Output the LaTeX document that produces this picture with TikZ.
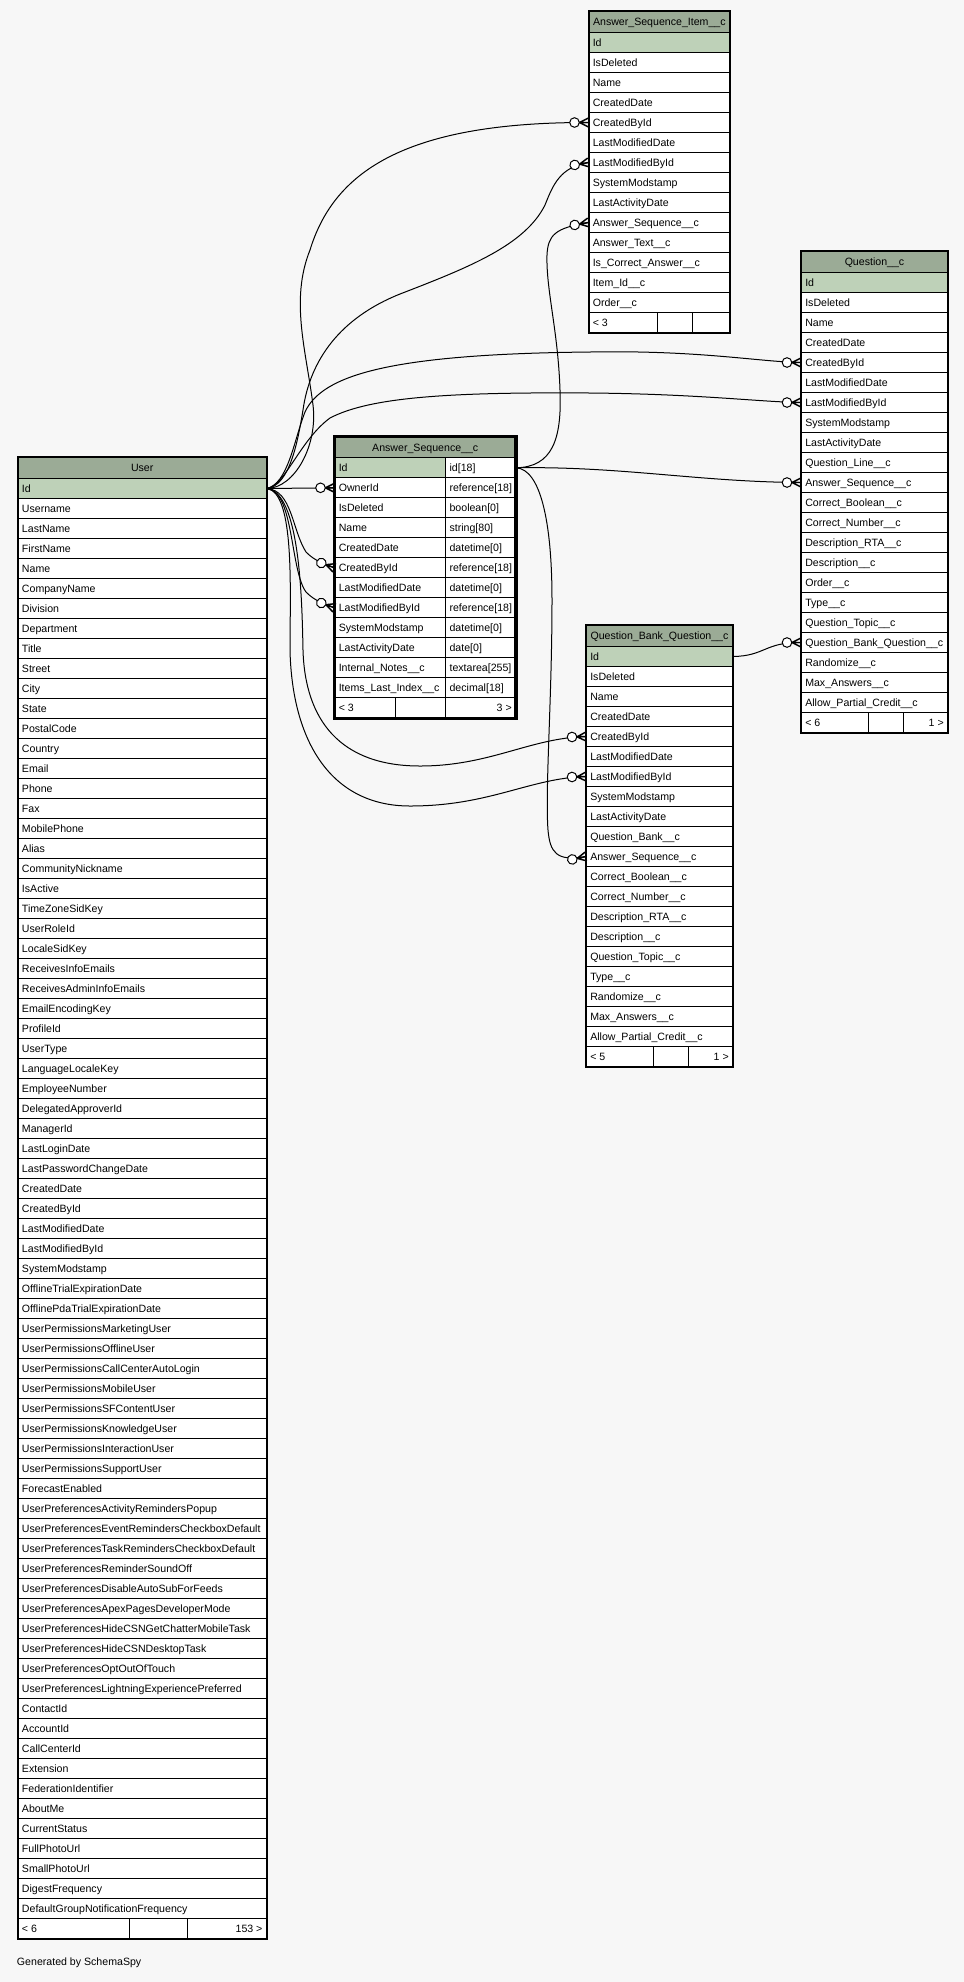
\documentclass[tikz,border=0pt]{standalone}
\usepackage{fontspec}
\setmainfont{Liberation Sans}
\definecolor{bgc}{HTML}{F7F7F7}
\definecolor{hdrc}{HTML}{9BAB96}
\definecolor{pkc}{HTML}{BED1B8}
\newcommand{\cellfnt}{\fontsize{7.95}{9.5}\selectfont}
\begin{document}
\begin{tikzpicture}[x=0.75pt,y=-0.75pt,
  cellbox/.style={draw=black, line width=0.75pt, fill=white, anchor=north west, inner sep=0pt, minimum height=15pt, minimum width=#1},
  pkbox/.style={cellbox=#1, fill=pkc},
  hdrbox/.style={draw=black, line width=0.75pt, fill=hdrc, anchor=north west, inner sep=0pt, minimum height=15.75pt, minimum width=#1, font=\cellfnt, text height=6.2pt, text depth=0.6pt},
  lt/.style={anchor=west, inner xsep=3pt, inner ysep=0pt, font=\cellfnt, text height=6.2pt, text depth=0.6pt},
  rt/.style={anchor=east, inner xsep=3pt, inner ysep=0pt, font=\cellfnt, text height=6.2pt, text depth=0.6pt},
  fk/.style={draw=black, line width=0.75pt},
  crowodot/.pic={
    \draw[line width=1.1pt] (-9,0) -- (0,-4.5) (-9,0) -- (0,0) (-9,0) -- (0,4.5);
    \draw[line width=0.75pt, fill=white] (-14,0) circle[radius=3.6pt];
  }]
\useasboundingbox (0,0) rectangle (964,1982);
\fill[bgc] (0,0) rectangle (964,1982);

% ---------- User ----------
\node[hdrbox=186pt] (user-h) at (17.7,457) {User};
\node[pkbox=186pt, label={[lt]west:Id}] (user-1) at (17.7,478) {};
\foreach \nm [count=\j from 2] in {Username, LastName, FirstName, Name, CompanyName, Division, Department, Title, Street, City, State, PostalCode, Country, Email, Phone, Fax, MobilePhone, Alias, CommunityNickname, IsActive, TimeZoneSidKey, UserRoleId, LocaleSidKey, ReceivesInfoEmails, ReceivesAdminInfoEmails, EmailEncodingKey, ProfileId, UserType, LanguageLocaleKey, EmployeeNumber, DelegatedApproverId, ManagerId, LastLoginDate, LastPasswordChangeDate, CreatedDate, CreatedById, LastModifiedDate, LastModifiedById, SystemModstamp, OfflineTrialExpirationDate, OfflinePdaTrialExpirationDate, UserPermissionsMarketingUser, UserPermissionsOfflineUser, UserPermissionsCallCenterAutoLogin, UserPermissionsMobileUser, UserPermissionsSFContentUser, UserPermissionsKnowledgeUser, UserPermissionsInteractionUser, UserPermissionsSupportUser, ForecastEnabled, UserPreferencesActivityRemindersPopup, UserPreferencesEventRemindersCheckboxDefault, UserPreferencesTaskRemindersCheckboxDefault, UserPreferencesReminderSoundOff, UserPreferencesDisableAutoSubForFeeds, UserPreferencesApexPagesDeveloperMode, UserPreferencesHideCSNGetChatterMobileTask, UserPreferencesHideCSNDesktopTask, UserPreferencesOptOutOfTouch, UserPreferencesLightningExperiencePreferred, ContactId, AccountId, CallCenterId, Extension, FederationIdentifier, AboutMe, CurrentStatus, FullPhotoUrl, SmallPhotoUrl, DigestFrequency, DefaultGroupNotificationFrequency}
  \node[cellbox=186pt, label={[lt]west:\nm}] (user-\j) at (17.7,{478+20*(\j-1)}) {};
\node[cellbox=83.5pt, label={[lt]west:{< 6}}] (user-fa) at (17.7,1918) {};
\node[cellbox=43.3pt] (user-fb) at (129,1918) {};
\node[cellbox=59.25pt, label={[rt]east:{153 >}}] (user-fc) at (186.7,1918) {};
\draw[line width=1.5pt] (user-h.north west) rectangle (user-fc.south east);

% ---------- Answer_Sequence__c ----------
\node[hdrbox=135.4pt, minimum height=15.75pt] (as-h) at (334.5,436.3) {Answer\_Sequence\_\_c};
\node[pkbox=83.1pt, label={[lt]west:Id}] (as-1) at (334.5,457.3) {};
\node[cellbox=52.3pt, label={[lt]west:{id[18]}}] (as-1-t) at (445.3,457.3) {};
\foreach \nm/\ty [count=\j from 2] in {OwnerId/{reference[18]}, IsDeleted/{boolean[0]}, Name/{string[80]}, CreatedDate/{datetime[0]}, CreatedById/{reference[18]}, LastModifiedDate/{datetime[0]}, LastModifiedById/{reference[18]}, SystemModstamp/{datetime[0]}, LastActivityDate/{date[0]}, Internal\_Notes\_\_c/{textarea[255]}, Items\_Last\_Index\_\_c/{decimal[18]}}
{
  \node[cellbox=83.1pt, label={[lt]west:\nm}] (as-\j) at (334.5,{457.3+20*(\j-1)}) {};
  \node[cellbox=52.3pt, label={[lt]west:\ty}] (as-\j-t) at (445.3,{457.3+20*(\j-1)}) {};
}
\node[cellbox=45.4pt, label={[lt]west:{< 3}}] (as-fa) at (334.5,697.3) {};
\node[cellbox=37.7pt] (as-fb) at (395,697.3) {};
\node[cellbox=52.3pt, label={[rt]east:{3 >}}] (as-fc) at (445.3,697.3) {};
\draw[line width=2.6pt] (as-h.north west) rectangle (as-fc.south east);

% ---------- Answer_Sequence_Item__c ----------
\node[hdrbox=105.5pt] (asi-h) at (588.5,11) {Answer\_Sequence\_Item\_\_c};
\node[pkbox=105.5pt, label={[lt]west:Id}] (asi-1) at (588.5,32) {};
\foreach \nm [count=\j from 2] in {IsDeleted, Name, CreatedDate, CreatedById, LastModifiedDate, LastModifiedById, SystemModstamp, LastActivityDate, Answer\_Sequence\_\_c, Answer\_Text\_\_c, Is\_Correct\_Answer\_\_c, Item\_Id\_\_c, Order\_\_c}
  \node[cellbox=105.5pt, label={[lt]west:\nm}] (asi-\j) at (588.5,{32+20*(\j-1)}) {};
\node[cellbox=51.4pt, label={[lt]west:{< 3}}] (asi-fa) at (588.5,312) {};
\node[cellbox=26.25pt] (asi-fb) at (657,312) {};
\node[cellbox=27.9pt] (asi-fc) at (692,312) {};
\draw[line width=1.5pt] (asi-h.north west) rectangle (asi-fc.south east);

% ---------- Question__c ----------
\node[hdrbox=109.5pt] (q-h) at (801,251) {Question\_\_c};
\node[pkbox=109.5pt, label={[lt]west:Id}] (q-1) at (801,272) {};
\foreach \nm [count=\j from 2] in {IsDeleted, Name, CreatedDate, CreatedById, LastModifiedDate, LastModifiedById, SystemModstamp, LastActivityDate, Question\_Line\_\_c, Answer\_Sequence\_\_c, Correct\_Boolean\_\_c, Correct\_Number\_\_c, Description\_RTA\_\_c, Description\_\_c, Order\_\_c, Type\_\_c, Question\_Topic\_\_c, Question\_Bank\_Question\_\_c, Randomize\_\_c, Max\_Answers\_\_c, Allow\_Partial\_Credit\_\_c}
  \node[cellbox=109.5pt, label={[lt]west:\nm}] (q-\j) at (801,{272+20*(\j-1)}) {};
\node[cellbox=50pt, label={[lt]west:{< 6}}] (q-fa) at (801,712) {};
\node[cellbox=26.25pt] (q-fb) at (867.7,712) {};
\node[cellbox=33.2pt, label={[rt]east:{1 >}}] (q-fc) at (902.7,712) {};
\draw[line width=1.5pt] (q-h.north west) rectangle (q-fc.south east);

% ---------- Question_Bank_Question__c ----------
\node[hdrbox=109.5pt] (qbq-h) at (586,625) {Question\_Bank\_Question\_\_c};
\node[pkbox=109.5pt, label={[lt]west:Id}] (qbq-1) at (586,646) {};
\foreach \nm [count=\j from 2] in {IsDeleted, Name, CreatedDate, CreatedById, LastModifiedDate, LastModifiedById, SystemModstamp, LastActivityDate, Question\_Bank\_\_c, Answer\_Sequence\_\_c, Correct\_Boolean\_\_c, Correct\_Number\_\_c, Description\_RTA\_\_c, Description\_\_c, Question\_Topic\_\_c, Type\_\_c, Randomize\_\_c, Max\_Answers\_\_c, Allow\_Partial\_Credit\_\_c}
  \node[cellbox=109.5pt, label={[lt]west:\nm}] (qbq-\j) at (586,{646+20*(\j-1)}) {};
\node[cellbox=50.5pt, label={[lt]west:{< 5}}] (qbq-fa) at (586,1046) {};
\node[cellbox=26.25pt] (qbq-fb) at (653.3,1046) {};
\node[cellbox=32.8pt, label={[rt]east:{1 >}}] (qbq-fc) at (688.3,1046) {};
\draw[line width=1.5pt] (qbq-h.north west) rectangle (qbq-fc.south east);

% ---------- connectors ----------
% User.Id -> Answer_Sequence_Item__c
\draw[fk] (user-1.east) .. controls (295,488) and (318,445) .. (313,405) .. controls (306,350) and (290,300) .. (310,250) .. controls (333,175) and (400,122) .. (asi-5.west);
\draw[fk] (user-1.east) .. controls (290,486) and (298,440) .. (303,410) .. controls (310,360) and (340,318) .. (400,294) .. controls (470,267) and (525,245) .. (545,205) .. controls (553,185) and (560,167) .. (asi-7.west);
% User.Id -> Question__c
\draw[fk] (user-1.east) .. controls (288,484) and (294,440) .. (305,412) .. controls (322,375) and (390,354) .. (590,352) .. controls (700,350) and (760,362) .. (q-5.west);
\draw[fk] (user-1.east) .. controls (285,486) and (300,440) .. (330,418) .. controls (370,397) and (450,392) .. (590,393) .. controls (700,394) and (760,402) .. (q-7.west);
% User.Id -> Answer_Sequence__c
\draw[fk] (user-1.east) -- (as-2.west);
\draw[fk] (user-1.east) .. controls (292,490) and (292,530) .. (306,552) .. controls (312,558) and (318,562) .. (as-6.west);
\draw[fk] (user-1.east) .. controls (294,490) and (290,570) .. (306,592) .. controls (312,598) and (318,602) .. (as-8.west);
% User.Id -> Question_Bank_Question__c
\draw[fk] (user-1.east) .. controls (300,492) and (302,600) .. (303,650) .. controls (305,720) and (340,766) .. (420,766) .. controls (490,766) and (530,738) .. (qbq-5.west);
\draw[fk] (user-1.east) .. controls (295,492) and (290,590) .. (290,650) .. controls (292,740) and (330,806) .. (410,806) .. controls (490,806) and (530,778) .. (qbq-7.west);
% Answer_Sequence__c.Id -> children
\draw[fk] (as-1-t.east) .. controls (552,467) and (562,440) .. (560,390) .. controls (558,330) and (546,290) .. (547,255) .. controls (548,235) and (555,228) .. (asi-10.west);
\draw[fk] (as-1-t.east) .. controls (620,466) and (700,482) .. (q-11.west);
\draw[fk] (as-1-t.east) .. controls (540,469) and (552,520) .. (552,600) .. controls (552,700) and (545,790) .. (548,830) .. controls (550,852) and (556,862) .. (qbq-11.west);
% Question_Bank_Question__c.Id -> Question__c
\draw[fk] (qbq-1.east) .. controls (765,656) and (765,642) .. (q-19.west);

% crow's feet with open circles
\pic[rotate=0] at (asi-5.west) {crowodot};
\pic[rotate=10] at (asi-7.west) {crowodot};
\pic[rotate=10] at (asi-10.west) {crowodot};
\pic[rotate=0] at (q-5.west) {crowodot};
\pic[rotate=0] at (q-7.west) {crowodot};
\pic[rotate=0] at (q-11.west) {crowodot};
\pic[rotate=0] at (q-19.west) {crowodot};
\pic[rotate=0] at (as-2.west) {crowodot};
\pic[rotate=-20] at (as-6.west) {crowodot};
\pic[rotate=-20] at (as-8.west) {crowodot};
\pic[rotate=2] at (qbq-5.west) {crowodot};
\pic[rotate=2] at (qbq-7.west) {crowodot};
\pic[rotate=12] at (qbq-11.west) {crowodot};

\node[anchor=west, inner sep=0pt, font=\cellfnt] (gen) at (16.7,1963) {Generated by SchemaSpy};
\end{tikzpicture}
\end{document}
